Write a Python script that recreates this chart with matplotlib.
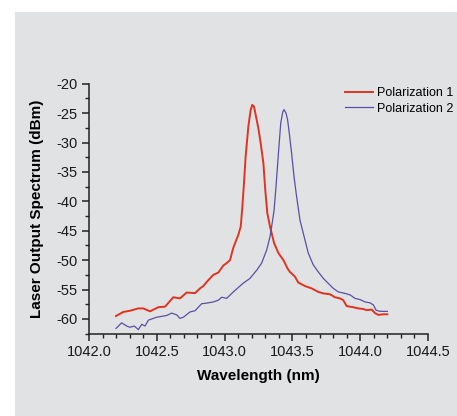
import matplotlib

matplotlib.use("Agg")
import matplotlib.pyplot as plt
from matplotlib.patches import Rectangle
from matplotlib.ticker import MultipleLocator

# values
wl_pol1 = [
    1042.199, 1042.253, 1042.302, 1042.364, 1042.400, 1042.450, 1042.511, 1042.561,
    1042.622, 1042.671, 1042.720, 1042.782, 1042.819, 1042.843, 1042.868, 1042.917,
    1042.954, 1042.991, 1043.015, 1043.040, 1043.064, 1043.101, 1043.119, 1043.131,
    1043.143, 1043.155, 1043.175, 1043.192, 1043.204, 1043.217, 1043.232, 1043.249,
    1043.266, 1043.286, 1043.300, 1043.315, 1043.335, 1043.365, 1043.397, 1043.434,
    1043.464, 1043.482, 1043.519, 1043.543, 1043.593, 1043.642, 1043.691, 1043.728,
    1043.777, 1043.814, 1043.851, 1043.875, 1043.900, 1043.949, 1043.986, 1044.023,
    1044.048, 1044.085, 1044.109, 1044.134, 1044.170, 1044.200,
]
dbm_pol1 = [
    -59.5, -58.8, -58.6, -58.2, -58.2, -58.7, -58.0, -57.9,
    -56.3, -56.5, -55.5, -55.6, -54.8, -54.4, -53.7, -52.5,
    -52.1, -50.9, -50.5, -50.0, -47.9, -45.7, -44.3, -40.9,
    -36.9, -32.4, -27.3, -24.5, -23.6, -23.9, -25.6, -27.6,
    -30.1, -33.5, -38.1, -42.0, -44.3, -47.1, -48.8, -50.0,
    -51.4, -52.0, -52.8, -53.8, -54.4, -54.8, -55.4, -55.65,
    -55.8, -56.3, -56.5, -56.8, -57.8, -58.0, -58.2, -58.3,
    -58.5, -58.4, -59.0, -59.3, -59.2, -59.2,
]

wl_pol2 = [
    1042.199, 1042.241, 1042.278, 1042.302, 1042.334, 1042.364, 1042.389, 1042.413,
    1042.438, 1042.499, 1042.573, 1042.610, 1042.647, 1042.671, 1042.696, 1042.745,
    1042.782, 1042.831, 1042.868, 1042.917, 1042.954, 1042.979, 1043.015, 1043.064,
    1043.138, 1043.187, 1043.237, 1043.273, 1043.310, 1043.335, 1043.347, 1043.365,
    1043.379, 1043.397, 1043.414, 1043.429, 1043.438, 1043.453, 1043.465, 1043.477,
    1043.494, 1043.512, 1043.531, 1043.556, 1043.593, 1043.617, 1043.654, 1043.691,
    1043.728, 1043.765, 1043.802, 1043.839, 1043.888, 1043.925, 1043.962, 1043.999,
    1044.035, 1044.072, 1044.097, 1044.117, 1044.146, 1044.200,
]
dbm_pol2 = [
    -61.6, -60.65, -61.2, -61.4, -61.2, -61.8, -60.9, -61.2,
    -60.2, -59.7, -59.4, -59.0, -59.3, -59.9, -59.7, -58.8,
    -58.6, -57.4, -57.3, -57.1, -56.8, -56.3, -56.5, -55.4,
    -53.9, -53.1, -51.7, -50.5, -48.3, -46.0, -44.3, -41.5,
    -37.5, -31.8, -26.7, -24.8, -24.4, -25.0, -26.2, -28.4,
    -31.8, -35.8, -39.2, -43.2, -46.6, -48.8, -50.8, -52.0,
    -53.1, -53.95, -54.8, -55.4, -55.65, -55.9, -56.5, -56.7,
    -57.1, -57.25, -57.6, -58.5, -58.7, -58.7,
]

series_labels = ["Polarization 1", "Polarization 2"]

plt.rcParams["font.family"] = ["Liberation Sans", "DejaVu Sans"]
plt.rcParams["axes.unicode_minus"] = False

W, H = 457, 416
fig = plt.figure(figsize=(W / 100, H / 100), dpi=100, facecolor="white")
fig.patches.append(
    Rectangle((15 / W, 0), (W - 15) / W, (H - 12) / H, transform=fig.transFigure,
              facecolor="#e1e2e4", edgecolor="none", zorder=-10)
)

ax = fig.add_axes([89 / W, 1 - 333.7 / H, (428 - 89) / W, (333.7 - 83.7) / H])
ax.set_facecolor("none")

ax.plot(wl_pol1, dbm_pol1, color="#e3321f", linewidth=1.4, label=series_labels[0])
ax.plot(wl_pol2, dbm_pol2, color="#5a4fa3", linewidth=0.9, label=series_labels[1])

ax.set_xlim(1042.0, 1044.5)
ax.set_ylim(-62.5, -20)
ax.xaxis.set_major_locator(MultipleLocator(0.5))
ax.xaxis.set_minor_locator(MultipleLocator(0.1))
ax.yaxis.set_major_locator(MultipleLocator(5))
ax.yaxis.set_minor_locator(MultipleLocator(2.5))
ax.xaxis.set_major_formatter(matplotlib.ticker.FormatStrFormatter("%.1f"))

for side in ("top", "right"):
    ax.spines[side].set_visible(False)
for side in ("left", "bottom"):
    ax.spines[side].set_linewidth(1.1)
    ax.spines[side].set_color("#222222")

ax.tick_params(which="major", direction="out", length=5, width=1.1, color="#222222",
               labelsize=10.5, labelcolor="#1a1a1a", pad=3)
ax.tick_params(which="minor", direction="out", length=3, width=1.0, color="#222222")

ax.set_xlabel("Wavelength (nm)", fontsize=11, fontweight="bold", labelpad=7)
ax.set_ylabel("Laser Output Spectrum (dBm)", fontsize=11, fontweight="bold", labelpad=9)

ax.legend(loc="upper left", bbox_to_anchor=(345 / W, 1 - 87 / H), bbox_transform=fig.transFigure,
          frameon=False, fontsize=9, handlelength=2.2, handletextpad=0.35, labelspacing=0.3,
          borderpad=0, borderaxespad=0)

fig.savefig("out.png", dpi=100)
plt.close(fig)
